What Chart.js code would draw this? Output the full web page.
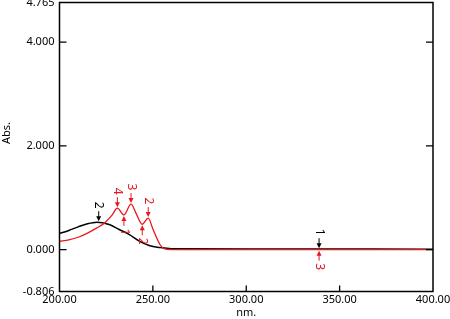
<!DOCTYPE html>
<html>
<head>
<meta charset="utf-8">
<script src="https://cdn.jsdelivr.net/npm/chart.js@4/dist/chart.umd.min.js"></script>
<style>
  html, body { margin: 0; padding: 0; background: #fff; }
  #wrap { width: 450px; height: 319px; }
</style>
</head>
<body>
<div id="wrap"><canvas id="c"></canvas></div>
<script>
// Spectrum values (wavelength nm, absorbance)
const blackX = [200, 205, 210, 215, 220, 223, 227, 232, 237, 243, 248, 254, 260, 300, 400];
const blackY = [0.31, 0.37, 0.44, 0.50, 0.53, 0.52, 0.48, 0.39, 0.30, 0.16, 0.08, 0.04, 0.02, 0.015, 0.01];

const redX = [200, 205, 210, 215, 220, 224, 228, 231, 234.5, 238.3, 241, 244.3, 247.5, 250, 253.8, 256, 260, 300, 400];
const redY = [0.16, 0.19, 0.24, 0.32, 0.42, 0.51, 0.66, 0.80, 0.67, 0.88, 0.70, 0.49, 0.61, 0.40, 0.10, 0.02, 0.0, 0.0, 0.0];

const yTicks = [-0.806, 0, 2, 4, 4.765];
const xTicks = [200, 250, 300, 350, 400];

// Peak / valley pick markers
const markX     = [221, 339, 231, 238.3, 247.5, 234.5, 244.3, 339];
const markY     = [0.53, 0.01, 0.80, 0.88, 0.61, 0.67, 0.49, 0.0];
const markLabel = ['2', '1', '4', '3', '2', '1', '2', '3'];
const markDir   = ['down', 'down', 'down', 'down', 'down', 'up', 'up', 'up'];
const markColor = ['#000', '#000', '#e8161d', '#e8161d', '#e8161d', '#e8161d', '#e8161d', '#e8161d'];

const RED = '#e8161d';
const FONT = { family: 'Noto Sans', size: 11 };

const pts = (xs, ys) => xs.map((x, i) => ({ x, y: ys[i] }));

// frame, inward ticks, y title and pick arrows
const decor = {
  id: 'decor',
  afterDatasetsDraw(chart) {
    const { ctx, chartArea: a, scales } = chart;
    const xs = scales.x, ys = scales.y;
    ctx.save();
    ctx.strokeStyle = '#000';
    ctx.lineWidth = 1.5;
    ctx.strokeRect(a.left, a.top, a.right - a.left, a.bottom - a.top);

    ctx.lineWidth = 1.3;
    ctx.beginPath();
    for (const v of [0, 2, 4]) {
      const py = ys.getPixelForValue(v);
      ctx.moveTo(a.left, py); ctx.lineTo(a.left + 7, py);
      ctx.moveTo(a.right, py); ctx.lineTo(a.right - 7, py);
    }
    for (const v of [250, 300, 350]) {
      const px = xs.getPixelForValue(v);
      ctx.moveTo(px, a.bottom); ctx.lineTo(px, a.bottom - 6);
    }
    ctx.stroke();

    // axis title sits a little above the middle of the axis
    ctx.fillStyle = '#000';
    ctx.font = '11px "Noto Sans"';
    ctx.textAlign = 'center';
    ctx.textBaseline = 'middle';
    ctx.save();
    ctx.translate(7, 133);
    ctx.rotate(-Math.PI / 2);
    ctx.fillText('Abs.', 0, 0);
    ctx.restore();

    ctx.font = '12px "Noto Sans"';
    markX.forEach((mx, i) => {
      const px = xs.getPixelForValue(mx);
      const py = ys.getPixelForValue(markY[i]);
      const s = markDir[i] === 'down' ? -1 : 1;
      const tip = py + s * 1;
      const tail = py + s * 11;
      ctx.strokeStyle = markColor[i];
      ctx.fillStyle = markColor[i];
      ctx.lineWidth = 1;
      ctx.beginPath();
      ctx.moveTo(px, tail); ctx.lineTo(px, tip + s * 4);
      ctx.stroke();
      ctx.beginPath();
      ctx.moveTo(px, tip);
      ctx.lineTo(px - 2.5, tip + s * 5);
      ctx.lineTo(px + 2.5, tip + s * 5);
      ctx.closePath();
      ctx.fill();
      ctx.save();
      ctx.translate(px, tail + s * 6);
      ctx.rotate(Math.PI / 2);
      ctx.fillText(markLabel[i], 0, 0);
      ctx.restore();
    });
    ctx.restore();
  }
};

new Chart(document.getElementById('c'), {
  type: 'line',
  data: {
    datasets: [
      {
        data: pts(redX, redY),
        borderColor: RED,
        borderWidth: 1.3,
        pointRadius: 0,
        cubicInterpolationMode: 'monotone'
      },
      {
        data: pts(blackX, blackY),
        borderColor: '#000',
        borderWidth: 1.5,
        pointRadius: 0,
        cubicInterpolationMode: 'monotone'
      }
    ]
  },
  options: {
    responsive: true,
    maintainAspectRatio: false,
    animation: false,
    layout: { padding: { top: 2.5, right: 17, left: 0, bottom: 0 } },
    plugins: { legend: { display: false }, tooltip: { enabled: false } },
    scales: {
      x: {
        type: 'linear',
        min: 200,
        max: 400,
        afterBuildTicks: s => { s.ticks = xTicks.map(v => ({ value: v })); },
        afterFit: s => { s.height = 27.5; s.paddingLeft = 0; s.paddingRight = 0; },
        grid: { display: false, drawTicks: false },
        border: { display: false },
        ticks: {
          color: '#000',
          font: FONT,
          padding: 2,
          maxRotation: 0,
          autoSkip: false,
          callback: v => v.toFixed(2)
        },
        title: { display: true, text: 'nm.', color: '#000', font: FONT, padding: { top: 0, bottom: 0 } }
      },
      y: {
        min: -0.806,
        max: 4.765,
        afterBuildTicks: s => { s.ticks = yTicks.map(v => ({ value: v })); },
        afterFit: s => { s.width = 59.5; s.paddingTop = 0; s.paddingBottom = 0; },
        grid: { display: false, drawTicks: false },
        border: { display: false },
        ticks: {
          color: '#000',
          font: FONT,
          padding: 5,
          autoSkip: false,
          callback: v => v.toFixed(3)
        },
        title: { display: false }
      }
    }
  },
  plugins: [decor]
});
</script>
</body>
</html>
